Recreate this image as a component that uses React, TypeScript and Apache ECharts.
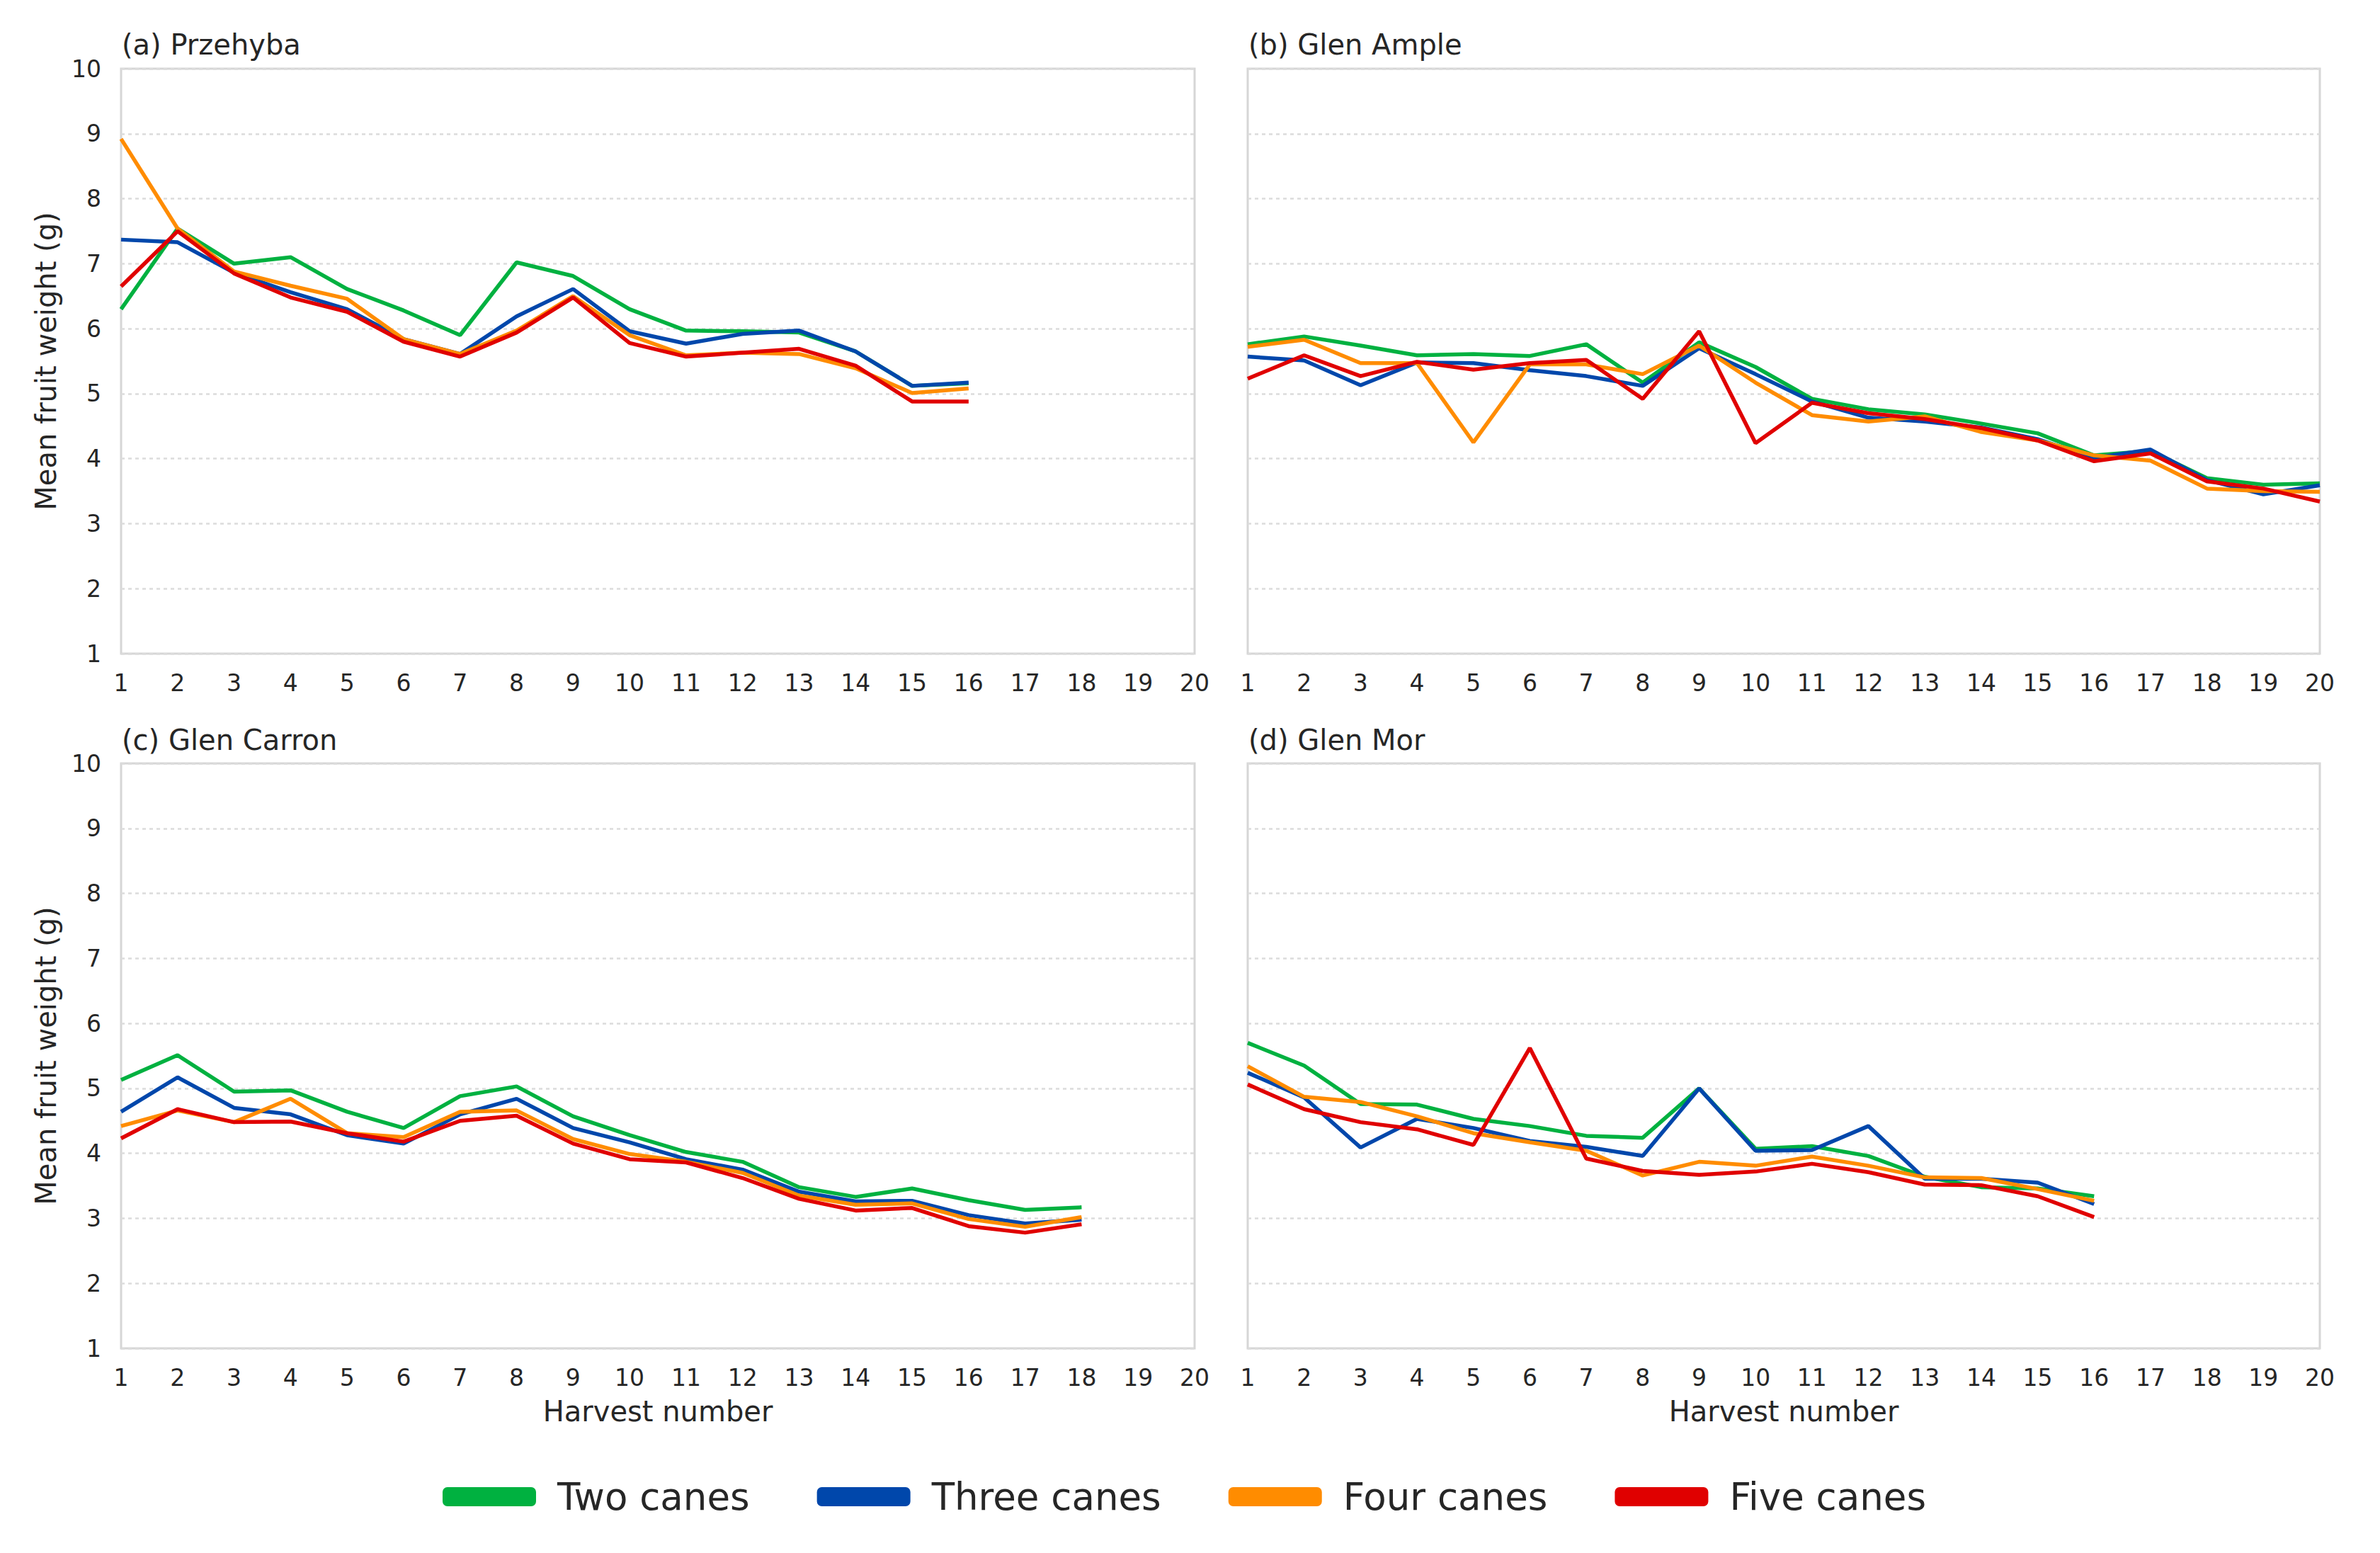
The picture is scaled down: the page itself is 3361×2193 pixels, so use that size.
import React, { useEffect, useRef } from "react";
import * as echarts from "echarts";

// Harvest number ticks
const harvestTicks = [1, 20];

const panelTitles = ["(a) Przehyba", "(b) Glen Ample", "(c) Glen Carron", "(d) Glen Mor"];
const seriesNames = ["Two canes", "Three canes", "Four canes", "Five canes"];
const seriesColors = ["#00B140", "#0047AB", "#FF8C00", "#E00000"];

// (a) Przehyba
const aTwo = [6.30, 7.54, 7.00, 7.10, 6.61, 6.28, 5.90, 7.02, 6.81, 6.30, 5.97, 5.96, 5.94, 5.65, 5.12, 5.16];
const aThree = [7.37, 7.33, 6.86, 6.56, 6.30, 5.84, 5.61, 6.19, 6.61, 5.96, 5.77, 5.92, 5.97, 5.65, 5.12, 5.17];
const aFour = [8.92, 7.54, 6.88, 6.66, 6.46, 5.84, 5.61, 5.97, 6.50, 5.90, 5.59, 5.63, 5.61, 5.39, 5.01, 5.08];
const aFive = [6.65, 7.50, 6.85, 6.48, 6.26, 5.80, 5.57, 5.94, 6.48, 5.78, 5.57, 5.63, 5.69, 5.43, 4.88, 4.88];

// (b) Glen Ample
const bTwo = [5.76, 5.88, 5.74, 5.59, 5.61, 5.58, 5.76, 5.17, 5.79, 5.41, 4.92, 4.76, 4.68, 4.54, 4.39, 4.05, 4.12, 3.70, 3.60, 3.62];
const bThree = [5.57, 5.51, 5.13, 5.48, 5.47, 5.36, 5.27, 5.12, 5.70, 5.30, 4.88, 4.63, 4.57, 4.48, 4.30, 4.01, 4.14, 3.67, 3.45, 3.59];
const bFour = [5.72, 5.83, 5.47, 5.47, 4.25, 5.45, 5.45, 5.30, 5.74, 5.17, 4.67, 4.57, 4.65, 4.41, 4.28, 4.05, 3.97, 3.54, 3.50, 3.49];
const bFive = [5.23, 5.59, 5.27, 5.49, 5.37, 5.47, 5.52, 4.92, 5.96, 4.24, 4.86, 4.70, 4.61, 4.47, 4.28, 3.96, 4.08, 3.65, 3.54, 3.34];

// (c) Glen Carron
const cTwo = [5.13, 5.51, 4.95, 4.97, 4.64, 4.39, 4.88, 5.03, 4.57, 4.28, 4.02, 3.87, 3.48, 3.33, 3.46, 3.28, 3.13, 3.17];
const cThree = [4.64, 5.17, 4.70, 4.60, 4.28, 4.15, 4.60, 4.84, 4.39, 4.17, 3.91, 3.75, 3.41, 3.26, 3.27, 3.05, 2.92, 2.98];
const cFour = [4.42, 4.66, 4.48, 4.84, 4.31, 4.25, 4.64, 4.66, 4.22, 3.99, 3.87, 3.70, 3.35, 3.21, 3.23, 2.99, 2.87, 3.02];
const cFive = [4.23, 4.68, 4.48, 4.49, 4.31, 4.18, 4.50, 4.58, 4.15, 3.91, 3.86, 3.62, 3.30, 3.12, 3.16, 2.88, 2.78, 2.91];

// (d) Glen Mor
const dTwo = [5.70, 5.35, 4.76, 4.75, 4.53, 4.42, 4.27, 4.24, 5.00, 4.07, 4.11, 3.96, 3.64, 3.48, 3.46, 3.34];
const dThree = [5.24, 4.86, 4.09, 4.53, 4.39, 4.19, 4.10, 3.96, 5.00, 4.04, 4.05, 4.42, 3.61, 3.61, 3.55, 3.22];
const dFour = [5.34, 4.87, 4.79, 4.57, 4.31, 4.17, 4.04, 3.66, 3.87, 3.81, 3.95, 3.81, 3.63, 3.62, 3.45, 3.27];
const dFive = [5.06, 4.68, 4.48, 4.37, 4.13, 5.62, 3.92, 3.73, 3.67, 3.72, 3.84, 3.71, 3.52, 3.51, 3.34, 3.02];

// y axis range
const yRange = [1, 10];

const panels = [
  [aTwo, aThree, aFour, aFive],
  [bTwo, bThree, bFour, bFive],
  [cTwo, cThree, cFour, cFive],
  [dTwo, dThree, dFour, dFive],
];

const FONT = "DejaVu Sans";
const TEXT = "#262626";

export default function App() {
  const ref = useRef<HTMLDivElement>(null);

  useEffect(() => {
    if (!ref.current) return;
    const chart = echarts.init(ref.current, undefined, { renderer: "svg" });

    const gridPos = [
      { left: 171, top: 97, width: 1516, height: 826 },
      { left: 1762, top: 97, width: 1514, height: 826 },
      { left: 171, top: 1078, width: 1516, height: 826 },
      { left: 1762, top: 1078, width: 1514, height: 826 },
    ];

    const grid = gridPos.map((g) => ({
      ...g,
      show: true,
      borderColor: "#d6d6d6",
      borderWidth: 3,
      backgroundColor: "transparent",
      containLabel: false,
    }));

    const xAxis = gridPos.map((_, i) => ({
      type: "value",
      gridIndex: i,
      min: harvestTicks[0],
      max: harvestTicks[1],
      interval: 1,
      axisLine: { show: false },
      axisTick: { show: false },
      splitLine: { show: false },
      axisLabel: { fontSize: 33, color: TEXT, fontFamily: FONT, margin: 25 },
      name: i >= 2 ? "Harvest number" : "",
      nameLocation: "middle",
      nameGap: 69,
      nameTextStyle: { fontSize: 40, color: TEXT, fontFamily: FONT },
    }));

    const yAxis = gridPos.map((_, i) => ({
      type: "value",
      gridIndex: i,
      min: yRange[0],
      max: yRange[1],
      interval: 1,
      axisLine: { show: false },
      axisTick: { show: false },
      splitLine: { show: true, lineStyle: { type: [5, 5], color: "#dcdcdc", width: 2.5 } },
      axisLabel: { show: i % 2 === 0, fontSize: 33, color: TEXT, fontFamily: FONT, margin: 28 },
      name: i % 2 === 0 ? "Mean fruit weight (g)" : "",
      nameLocation: "middle",
      nameRotate: 90,
      nameGap: 86,
      nameTextStyle: { fontSize: 40, color: TEXT, fontFamily: FONT },
    }));

    const series: any[] = [];
    panels.forEach((panel, p) => {
      panel.forEach((vals, s) => {
        series.push({
          type: "line",
          name: seriesNames[s],
          xAxisIndex: p,
          yAxisIndex: p,
          data: vals.map((v, k) => [k + 1, v]),
          showSymbol: false,
          symbol: "none",
          lineStyle: { color: seriesColors[s], width: 5.5 },
          itemStyle: { color: seriesColors[s] },
          z: 2 + s,
        });
      });
    });

    const titlePos = [
      { left: 172, top: 43 },
      { left: 1763, top: 43 },
      { left: 172, top: 1025 },
      { left: 1763, top: 1025 },
    ];

    chart.setOption({
      animation: false,
      backgroundColor: "#ffffff",
      title: panelTitles.map((t, i) => ({
        text: t,
        ...titlePos[i],
        padding: 0,
        textStyle: { fontSize: 40, fontWeight: "normal", color: TEXT, fontFamily: FONT },
      })),
      legend: {
        data: seriesNames.map((n) => ({ name: n, icon: "roundRect" })),
        left: 625,
        top: 2087,
        padding: 0,
        itemWidth: 132,
        itemHeight: 27,
        itemGap: 95,
        textStyle: { fontSize: 53, color: TEXT, fontFamily: FONT, padding: [0, 0, 0, 25] },
      },
      grid,
      xAxis,
      yAxis,
      series,
    });

    return () => chart.dispose();
  }, []);

  return (
    <div
      ref={ref}
      style={{ position: "fixed", left: 0, top: 0, width: 3361, height: 2193, background: "#fff" }}
    />
  );
}
